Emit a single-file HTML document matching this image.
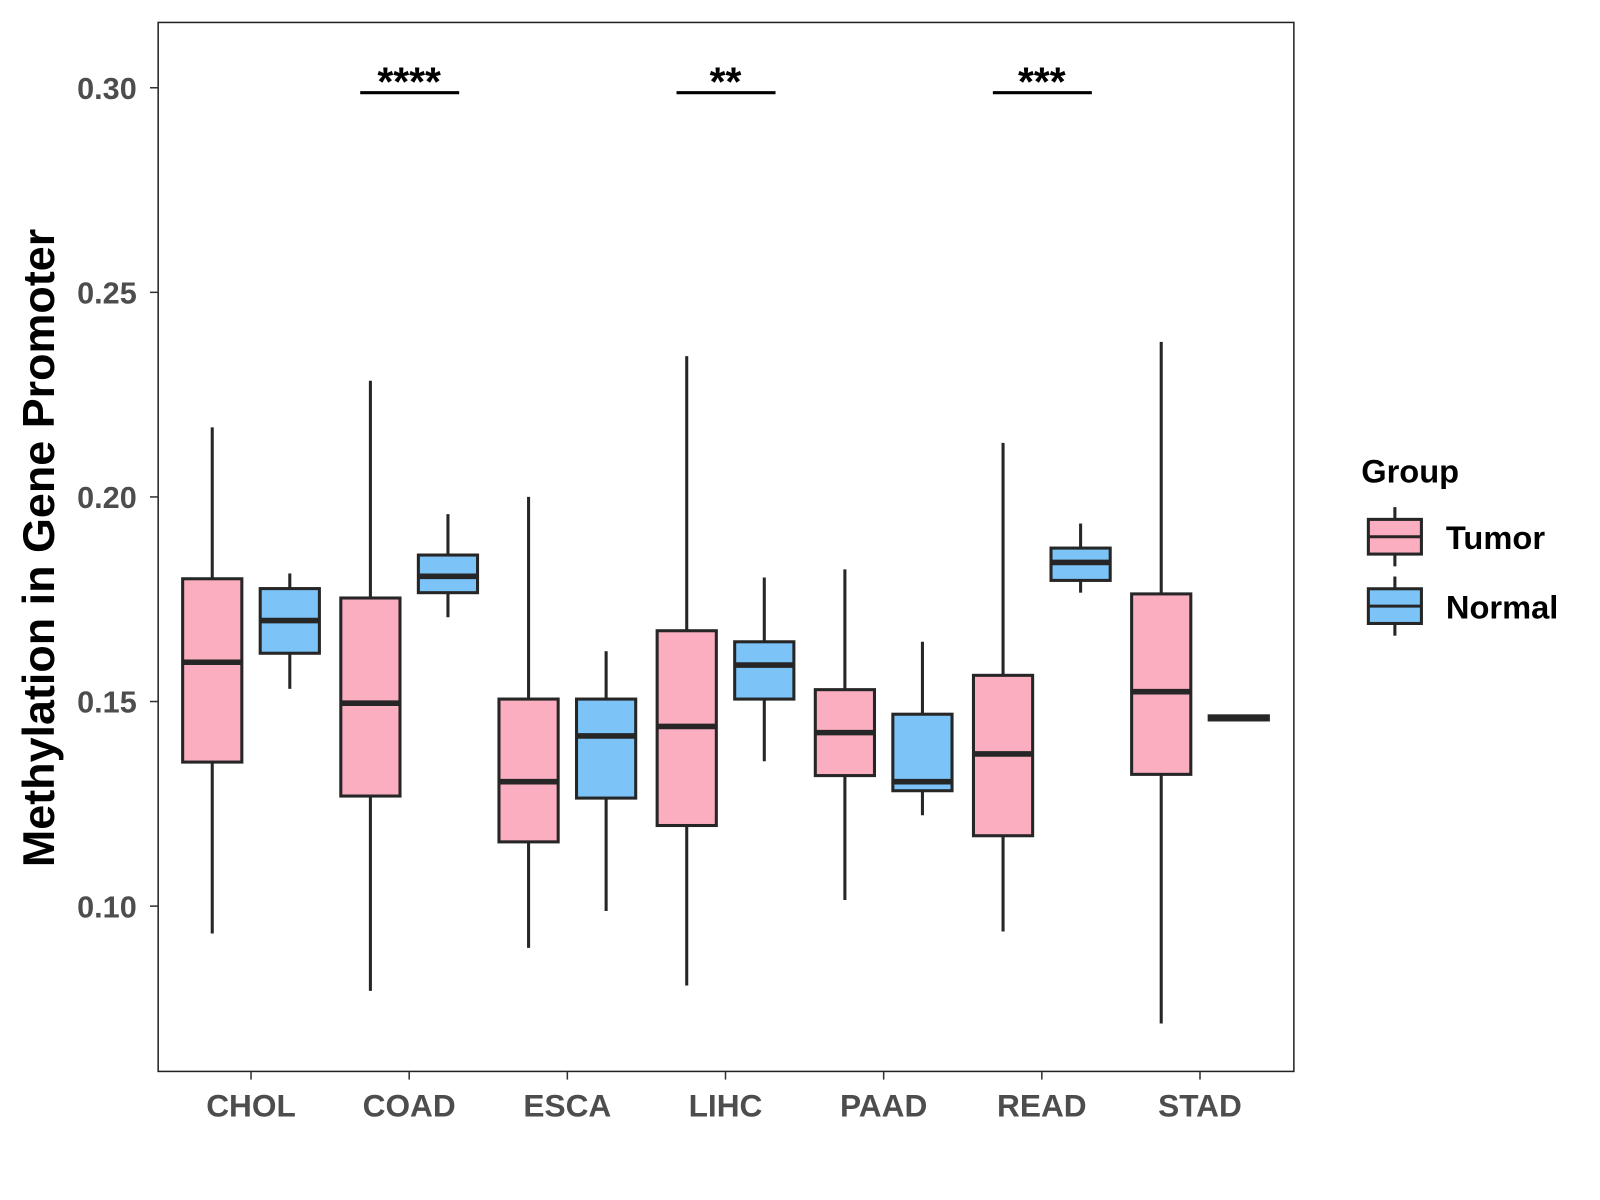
<!DOCTYPE html>
<html><head><meta charset="utf-8"><style>
html,body{margin:0;padding:0;background:#fff;}
svg{display:block;font-family:"Liberation Sans",Arial,sans-serif;}
</style></head><body>
<svg width="1600" height="1200" viewBox="0 0 1600 1200"><g id="chart" transform="scale(1.0204)"></g></svg>
<script>
const categories=["CHOL","COAD","ESCA","LIHC","PAAD","READ","STAD"];
const groups=["Tumor","Normal"];
// [lower whisker, q1, median, q3, upper whisker]
const tumorStats=[[0.0933,0.1352,0.1596,0.1800,0.2170],[0.0793,0.1269,0.1496,0.1753,0.2284],[0.0898,0.1157,0.1304,0.1506,0.2000],[0.0806,0.1197,0.1439,0.1673,0.2344],[0.1015,0.1319,0.1424,0.1529,0.1823],[0.0938,0.1172,0.1372,0.1564,0.2132],[0.0713,0.1322,0.1524,0.1763,0.2379]];
const normalStats=[[0.1531,0.1618,0.1698,0.1776,0.1813],[0.1706,0.1766,0.1806,0.1858,0.1958],[0.0988,0.1264,0.1416,0.1506,0.1623],[0.1354,0.1506,0.1589,0.1646,0.1803],[0.1222,0.1282,0.1304,0.1469,0.1646],[0.1766,0.1796,0.1840,0.1875,0.1935],[0.1452,0.1455,0.1460,0.1465,0.1468]];
const yTicks=[0.10,0.15,0.20,0.25,0.30];
const sigCats=["COAD","LIHC","READ"];
const sigLabels=["****","**","***"];
const sigLevel=0.2988;
const colors=["#FBAEC0","#7CC4F8"];

const NS="http://www.w3.org/2000/svg";
const svg=document.getElementById('chart');
const PL=155,PR=1268,PT=22,PB=1050;
function y(v){return 86+(0.30-v)/0.05*200.5;}
function x(i){return 246+i*155;}
function mk(tag,attrs,parent){const e=document.createElementNS(NS,tag);for(const k in attrs)e.setAttribute(k,attrs[k]);(parent||svg).appendChild(e);return e;}

const panel=mk('rect',{x:PL,y:PT,width:PR-PL,height:PB-PT,fill:'#fff',stroke:'#222','stroke-width':1.5});



yTicks.forEach(t=>{
  const l=mk('line',{x1:147,x2:PL,y1:y(t),y2:y(t),stroke:'#333','stroke-width':1.5});
  
  
  const tx=mk('text',{x:134,y:y(t)+11,'text-anchor':'end','font-size':30,'font-weight':'bold',fill:'#4d4d4d'});
  tx.textContent=t.toFixed(2);
  
  
});
categories.forEach((c,i)=>{
  const l=mk('line',{x1:x(i),x2:x(i),y1:PB,y2:PB+8,stroke:'#333','stroke-width':1.5});
  
  
  const tx=mk('text',{x:x(i),y:1094,'text-anchor':'middle','font-size':31,'font-weight':'bold',fill:'#4d4d4d'});
  tx.textContent=c;
  
  
});

function drawBox(s,cx,fill,name){
  const g=mk('g',{});
  
  
  const w=58;
  mk('line',{x1:cx,x2:cx,y1:y(s[4]),y2:y(s[3]),stroke:'#262626','stroke-width':3},g);
  mk('line',{x1:cx,x2:cx,y1:y(s[1]),y2:y(s[0]),stroke:'#262626','stroke-width':3},g);
  mk('rect',{x:cx-w/2,y:y(s[3]),width:w,height:Math.max(y(s[1])-y(s[3]),0.5),fill:fill,stroke:'#262626','stroke-width':3},g);
  mk('line',{x1:cx-w/2,x2:cx+w/2,y1:y(s[2]),y2:y(s[2]),stroke:'#262626','stroke-width':5.5},g);
}
categories.forEach((c,i)=>{
  drawBox(tumorStats[i],x(i)-38,colors[0],'box-tumor-'+c.toLowerCase());
  drawBox(normalStats[i],x(i)+38,colors[1],'box-normal-'+c.toLowerCase());
});

sigCats.forEach((c,j)=>{
  const i=categories.indexOf(c);
  const l=mk('line',{x1:x(i)-48,x2:x(i)+49,y1:y(sigLevel),y2:y(sigLevel),stroke:'#000','stroke-width':3});
  
  
  const t=mk('text',{x:x(i),y:y(sigLevel)+3,'text-anchor':'middle','font-size':40,'font-weight':'bold',fill:'#000'});
  t.textContent=sigLabels[j];
  
  
});

const yt=mk('text',{x:0,y:0,transform:'translate(53,537) rotate(-90)','text-anchor':'middle','font-size':44,'font-weight':'bold',fill:'#000'});
yt.textContent='Methylation in Gene Promoter';



const lg=mk('g',{});


const lt=mk('text',{x:1334,y:473,'font-size':32,'font-weight':'bold',fill:'#000'},lg);
lt.textContent='Group';


groups.forEach((gname,k)=>{
  const e=mk('g',{},lg);
  
  
  const top=509+k*68;
  mk('line',{x1:1367,x2:1367,y1:top-12,y2:top+46,stroke:'#262626','stroke-width':3},e);
  mk('rect',{x:1341,y:top,width:52,height:34,fill:colors[k],stroke:'#262626','stroke-width':3},e);
  mk('line',{x1:1341,x2:1393,y1:top+17,y2:top+17,stroke:'#262626','stroke-width':3},e);
  const t=mk('text',{x:1417,y:top+29,'font-size':32,'font-weight':'bold',fill:'#000'},e);
  t.textContent=gname;
});
</script>
</body></html>
